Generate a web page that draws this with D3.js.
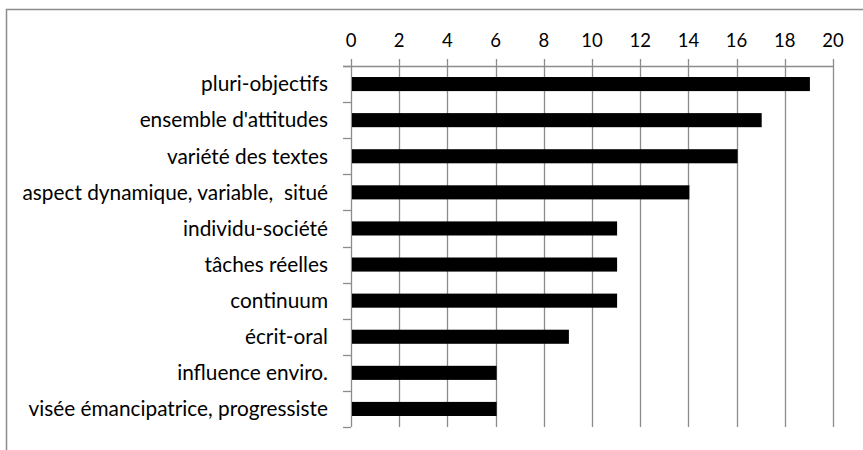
<!DOCTYPE html>
<html>
<head>
<meta charset="utf-8">
<script src="https://cdn.jsdelivr.net/npm/d3@7"></script>
<style>
  body { margin: 0; background: #fff; }
  svg { display: block; }
  text { font-family: Lato, "Open Sans", sans-serif; fill: #000; white-space: pre; }
</style>
</head>
<body>
<svg id="chart" width="863" height="450"></svg>
<script>
// data
const categories = [
    "pluri-objectifs",
    "ensemble d'attitudes",
    "variété des textes",
    "aspect dynamique, variable,  situé",
    "individu-société",
    "tâches réelles",
    "continuum",
    "écrit-oral",
    "influence enviro.",
    "visée émancipatrice, progressiste"
];
const counts = [19, 17, 16, 14, 11, 11, 11, 9, 6, 6];
const tickValues = [0, 2, 4, 6, 8, 10, 12, 14, 16, 18, 20];

const svg = d3.select("#chart");
const plot = {left: 351, right: 833, top: 66, bottom: 427};

// outer frame
svg.append("rect")
    .attr("x", 6.5).attr("y", 9.5)
    .attr("width", 870).attr("height", 460)
    .attr("fill", "none")
    .attr("stroke", "#8c8c8c")
    .attr("stroke-width", 1.5);

const x = d3.scaleLinear().domain([0, 20]).range([plot.left, plot.right]);
const y = d3.scaleBand().domain(categories).range([plot.top, plot.bottom]).paddingInner(0.61).paddingOuter(0.305);
const yLines = d3.scaleLinear().domain([0, categories.length]).range([plot.top, plot.bottom]);

// vertical gridlines
svg.append("g")
    .selectAll("line")
    .data(tickValues)
    .join("line")
    .attr("x1", d => Math.round(x(d)) + 0.5)
    .attr("x2", d => Math.round(x(d)) + 0.5)
    .attr("y1", plot.top - 7)
    .attr("y2", plot.bottom)
    .attr("stroke", "#8c8c8c")
    .attr("stroke-width", 1.3);

// top axis line
svg.append("line")
    .attr("x1", plot.left - 8).attr("x2", Math.round(x(20)) + 1)
    .attr("y1", plot.top + 0.5).attr("y2", plot.top + 0.5)
    .attr("stroke", "#8c8c8c").attr("stroke-width", 1.3);

// left axis ticks at category boundaries
svg.append("g")
    .selectAll("line")
    .data(d3.range(categories.length + 1))
    .join("line")
    .attr("x1", plot.left - 8)
    .attr("x2", plot.left)
    .attr("y1", d => Math.round(yLines(d)) + 0.5)
    .attr("y2", d => Math.round(yLines(d)) + 0.5)
    .attr("stroke", "#8c8c8c")
    .attr("stroke-width", 1.3);

// tick labels
svg.append("g")
    .selectAll("text")
    .data(tickValues)
    .join("text")
    .attr("x", d => x(d))
    .attr("y", 47)
    .attr("text-anchor", "middle")
    .attr("font-size", 18.5)
    .text(d => d);

// bars
svg.append("g")
    .selectAll("rect")
    .data(counts)
    .join("rect")
    .attr("x", x(0) + 1)
    .attr("y", (d, i) => y(categories[i]))
    .attr("width", d => x(d) - x(0))
    .attr("height", y.bandwidth())
    .attr("fill", "#000");

// category labels
svg.append("g")
    .selectAll("text")
    .data(categories)
    .join("text")
    .attr("x", plot.left - 23)
    .attr("y", d => y(d) + y.bandwidth() / 2)
    .attr("dy", "0.35em")
    .attr("text-anchor", "end")
    .attr("font-size", 20.8)
    .text(d => d);
</script>
</body>
</html>
